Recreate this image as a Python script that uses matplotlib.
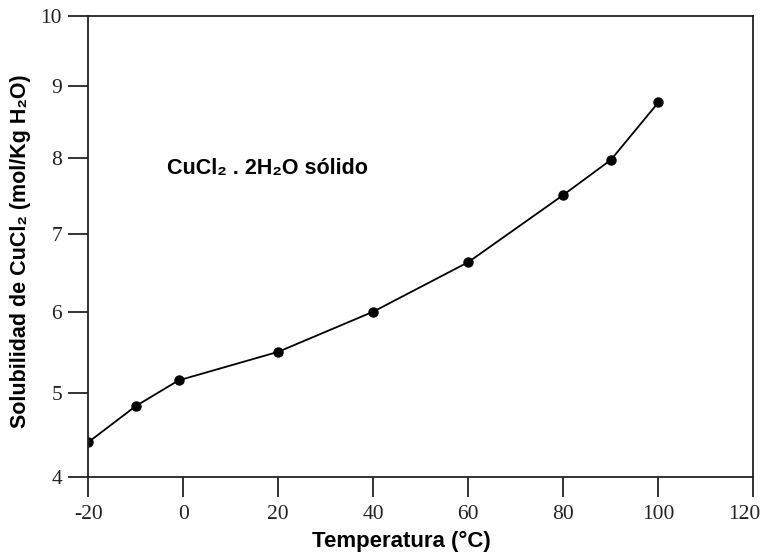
import numpy as np
import matplotlib
matplotlib.use("Agg")
import matplotlib.pyplot as plt
from matplotlib.transforms import ScaledTranslation

temperatura = [-20, -10, -1, 20, 40, 60, 80, 90, 100]
solubilidad = [4.41, 4.84, 5.15, 5.50, 6.00, 6.63, 7.51, 7.98, 8.77]
x_ticks = [-20, 0, 20, 40, 60, 80, 100, 120]
y_ticks = [4, 5, 6, 7, 8, 9, 10]

fig = plt.figure(figsize=(7.61, 5.56), dpi=100)
ax = fig.add_axes([0.116, 0.1415, 0.874, 0.8297])

C = 19.5
ax.set_yscale('function', functions=(lambda y: np.log(np.asarray(y) + C),
                                     lambda v: np.exp(v) - C))

ax.plot(temperatura, solubilidad, color='black', lw=1.3, marker='o',
        markersize=6.5, markerfacecolor='black', markeredgecolor='black')

ax.set_xlim(-20, 120)
ax.set_ylim(4, 10)
ax.set_xticks(x_ticks)
ax.set_yticks(y_ticks)
ax.set_xticklabels([str(t) for t in x_ticks])
ax.set_yticklabels([str(t) for t in y_ticks])
ax.minorticks_off()

for s in ax.spines.values():
    s.set_linewidth(1.3)
    s.set_color('#222222')
ax.tick_params(axis='both', direction='out', length=14.4, width=1.3,
               color='#222222', labelsize=15.5, labelcolor='#222222')
ax.tick_params(axis='x', pad=5.5)
ax.tick_params(axis='y', pad=4.5)
for lab in ax.get_xticklabels() + ax.get_yticklabels():
    lab.set_family('Liberation Serif')

# the last x label sits slightly left of its tick, as in the reference
last = ax.get_xticklabels()[-1]
last.set_transform(last.get_transform() +
                   ScaledTranslation(-9 / 100, 0, fig.dpi_scale_trans))

sans = ['Liberation Sans', 'DejaVu Sans']
ax.set_xlabel('Temperatura (°C)', family=sans, fontweight='bold', fontsize=16,
              labelpad=5)
ax.xaxis.label.set_x(0.471)
ax.set_ylabel('Solubilidad de CuCl₂ (mol/Kg H₂O)', family=sans,
              fontweight='bold', fontsize=15.5, labelpad=7)
ax.yaxis.label.set_y(0.49)

ax.text(-3.5, 7.86, 'CuCl₂ . 2H₂O sólido', family=sans, fontweight='bold',
        fontsize=15.5, ha='left', va='center')

fig.savefig('out.png', dpi=100)
